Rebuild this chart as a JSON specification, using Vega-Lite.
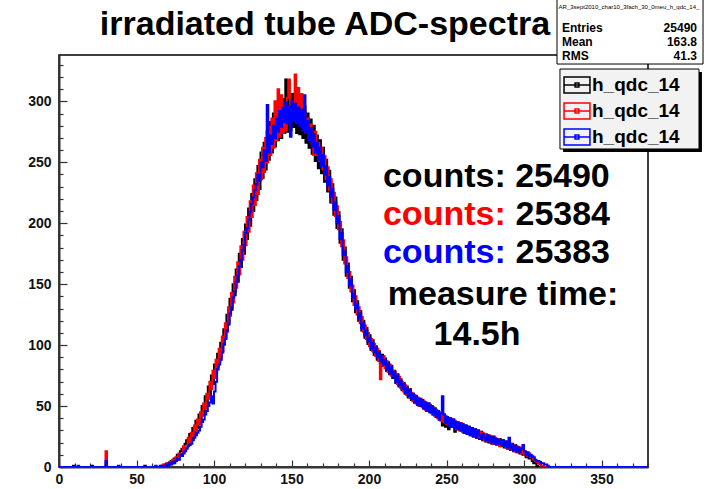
{
  "$schema": "https://vega.github.io/schema/vega-lite/v6.json",
  "autosize": {"type": "none"},
  "width": 589,
  "height": 412,
  "padding": {"left": 59, "top": 55, "right": 56, "bottom": 22},
  "background": "white",
  "config": {
    "font": "Liberation Sans",
    "view": {"stroke": "black", "strokeWidth": 1.5},
    "axis": {"grid": false, "title": null, "domainColor": "#333", "domainWidth": 2, "tickColor": "#333", "tickWidth": 1.2, "labelFont": "Liberation Sans", "labelFontWeight": "bold", "labelFontSize": 14, "labelColor": "#111", "labelFlush": false, "labelOverlap": false}
  },
  "resolve": {"axis": {"x": "independent", "y": "independent"}},
  "layer": [
    {
      "data": {"values": [
        {"x":0,"k":0,"r":0,"b":0},{"x":9,"k":1,"r":0,"b":0},{"x":10,"k":0,"r":0,"b":0},{"x":12,"k":0,"r":0,"b":1},{"x":13,"k":0,"r":0,"b":0},
        {"x":21,"k":1,"r":0,"b":0},{"x":22,"k":0,"r":0,"b":0},{"x":30,"k":1,"r":13,"b":5},{"x":31,"k":0,"r":0,"b":0},{"x":38,"k":0,"r":0,"b":1},{"x":39,"k":0,"r":0,"b":0},
        {"x":55,"k":1,"r":0,"b":0},{"x":56,"k":0,"r":0,"b":0},{"x":62,"k":0,"r":0,"b":1},{"x":63,"k":0,"r":0,"b":0},
        {"x":65,"k":0,"r":0,"b":1},{"x":66,"k":1,"r":0,"b":0},{"x":67,"k":0,"r":2,"b":1},{"x":68,"k":2,"r":1,"b":0},{"x":69,"k":1,"r":3,"b":2},
        {"x":70,"k":3,"r":2,"b":1},{"x":71,"k":2,"r":4,"b":3},{"x":72,"k":5,"r":3,"b":2},{"x":73,"k":3,"r":6,"b":4},{"x":74,"k":7,"r":4,"b":3},
        {"x":75,"k":5,"r":8,"b":5},{"x":76,"k":10,"r":6,"b":7},{"x":77,"k":8,"r":11,"b":6},{"x":78,"k":13,"r":9,"b":10},{"x":79,"k":15,"r":11,"b":9},
        {"x":80,"k":12,"r":17,"b":11},{"x":81,"k":19,"r":14,"b":13},{"x":82,"k":22,"r":16,"b":15},{"x":83,"k":18,"r":24,"b":17},{"x":84,"k":27,"r":20,"b":18},
        {"x":85,"k":22,"r":28,"b":19},{"x":86,"k":32,"r":25,"b":22},{"x":87,"k":27,"r":34,"b":24},{"x":88,"k":38,"r":30,"b":26},{"x":89,"k":32,"r":39,"b":28},
        {"x":90,"k":43,"r":35,"b":30},{"x":91,"k":38,"r":45,"b":33},{"x":92,"k":50,"r":42,"b":37},{"x":93,"k":44,"r":52,"b":39},{"x":94,"k":58,"r":48,"b":43},
        {"x":95,"k":51,"r":60,"b":46},{"x":96,"k":66,"r":56,"b":50},{"x":97,"k":59,"r":70,"b":53},{"x":98,"k":75,"r":64,"b":58},{"x":99,"k":68,"r":79,"b":52},
        {"x":100,"k":84,"r":73,"b":62},{"x":101,"k":78,"r":88,"b":70},{"x":102,"k":93,"r":82,"b":80},{"x":103,"k":86,"r":97,"b":84},{"x":104,"k":102,"r":90,"b":88},
        {"x":105,"k":95,"r":107,"b":94},{"x":106,"k":113,"r":100,"b":101},{"x":107,"k":106,"r":118,"b":105},{"x":108,"k":125,"r":111,"b":112},{"x":109,"k":117,"r":131,"b":118},
        {"x":110,"k":138,"r":124,"b":126},{"x":111,"k":129,"r":143,"b":131},{"x":112,"k":150,"r":135,"b":139},{"x":113,"k":141,"r":156,"b":144},{"x":114,"k":162,"r":147,"b":152},
        {"x":115,"k":152,"r":168,"b":157},{"x":116,"k":175,"r":158,"b":165},{"x":117,"k":164,"r":181,"b":170},{"x":118,"k":187,"r":170,"b":178},{"x":119,"k":175,"r":193,"b":182},
        {"x":120,"k":199,"r":182,"b":192},{"x":121,"k":187,"r":205,"b":196},{"x":122,"k":212,"r":193,"b":203},{"x":123,"k":198,"r":218,"b":209},{"x":124,"k":224,"r":205,"b":216},
        {"x":125,"k":210,"r":231,"b":221},{"x":126,"k":236,"r":215,"b":227},{"x":127,"k":219,"r":241,"b":232},{"x":128,"k":247,"r":224,"b":240},{"x":129,"k":228,"r":252,"b":235},
        {"x":130,"k":258,"r":236,"b":250},{"x":131,"k":237,"r":262,"b":246},{"x":132,"k":266,"r":242,"b":260},{"x":133,"k":244,"r":270,"b":251},{"x":134,"k":275,"r":250,"b":297},
        {"x":135,"k":252,"r":279,"b":258},{"x":136,"k":283,"r":256,"b":272},{"x":137,"k":258,"r":286,"b":265},{"x":138,"k":290,"r":262,"b":280},{"x":139,"k":263,"r":300,"b":270},
        {"x":140,"k":296,"r":268,"b":286},{"x":141,"k":268,"r":310,"b":275},{"x":142,"k":299,"r":271,"b":292},{"x":143,"k":270,"r":305,"b":279},{"x":144,"k":302,"r":274,"b":295},
        {"x":145,"k":274,"r":296,"b":283},{"x":146,"k":318,"r":276,"b":299},{"x":147,"k":275,"r":303,"b":282},{"x":148,"k":304,"r":318,"b":296},{"x":149,"k":276,"r":284,"b":271},
        {"x":150,"k":306,"r":296,"b":300},{"x":151,"k":279,"r":285,"b":284},{"x":152,"k":300,"r":322,"b":298},{"x":153,"k":274,"r":283,"b":282},{"x":154,"k":303,"r":311,"b":295},
        {"x":155,"k":273,"r":282,"b":280},{"x":156,"k":299,"r":306,"b":293},{"x":157,"k":270,"r":279,"b":276},{"x":158,"k":296,"r":292,"b":305},{"x":159,"k":266,"r":274,"b":274},
        {"x":160,"k":290,"r":286,"b":284},{"x":161,"k":262,"r":270,"b":268},{"x":162,"k":285,"r":281,"b":278},{"x":163,"k":257,"r":265,"b":263},{"x":164,"k":280,"r":256,"b":273},
        {"x":165,"k":251,"r":275,"b":258},{"x":166,"k":272,"r":256,"b":266},{"x":167,"k":245,"r":266,"b":252},{"x":168,"k":268,"r":251,"b":262},{"x":169,"k":241,"r":262,"b":247},
        {"x":170,"k":262,"r":244,"b":256},{"x":171,"k":234,"r":255,"b":240},{"x":172,"k":252,"r":236,"b":247},{"x":173,"k":226,"r":246,"b":231},{"x":174,"k":243,"r":227,"b":238},
        {"x":175,"k":217,"r":236,"b":222},{"x":176,"k":232,"r":217,"b":228},{"x":177,"k":207,"r":225,"b":211},{"x":178,"k":221,"r":206,"b":217},{"x":179,"k":196,"r":214,"b":200},
        {"x":180,"k":209,"r":195,"b":206},{"x":181,"k":184,"r":201,"b":187},{"x":182,"k":195,"r":181,"b":192},{"x":183,"k":170,"r":186,"b":174},{"x":184,"k":180,"r":167,"b":177},
        {"x":185,"k":157,"r":172,"b":160},{"x":186,"k":167,"r":155,"b":165},{"x":187,"k":147,"r":160,"b":149},{"x":188,"k":156,"r":144,"b":154},{"x":189,"k":136,"r":149,"b":139},
        {"x":190,"k":145,"r":133,"b":142},{"x":191,"k":127,"r":140,"b":130},{"x":192,"k":136,"r":125,"b":134},{"x":193,"k":120,"r":131,"b":122},{"x":194,"k":128,"r":118,"b":126},
        {"x":195,"k":112,"r":123,"b":114},{"x":196,"k":120,"r":111,"b":118},{"x":197,"k":106,"r":116,"b":108},{"x":198,"k":114,"r":105,"b":112},{"x":199,"k":101,"r":110,"b":103},
        {"x":200,"k":108,"r":99,"b":106},{"x":201,"k":96,"r":105,"b":97},{"x":202,"k":104,"r":95,"b":102},{"x":203,"k":92,"r":101,"b":94},{"x":204,"k":99,"r":91,"b":98},
        {"x":205,"k":88,"r":97,"b":90},{"x":206,"k":95,"r":87,"b":94},{"x":207,"k":85,"r":72,"b":87},{"x":208,"k":92,"r":84,"b":91},{"x":209,"k":83,"r":91,"b":84},
        {"x":210,"k":89,"r":81,"b":88},{"x":211,"k":79,"r":87,"b":80},{"x":212,"k":86,"r":78,"b":85},{"x":213,"k":76,"r":84,"b":77},{"x":214,"k":83,"r":75,"b":82},
        {"x":215,"k":73,"r":79,"b":74},{"x":216,"k":79,"r":78,"b":78},{"x":217,"k":69,"r":76,"b":70},{"x":218,"k":76,"r":68,"b":75},{"x":219,"k":66,"r":74,"b":67},
        {"x":220,"k":72,"r":65,"b":71},{"x":221,"k":63,"r":70,"b":64},{"x":222,"k":69,"r":62,"b":68},{"x":223,"k":60,"r":67,"b":61},{"x":224,"k":66,"r":59,"b":65},
        {"x":225,"k":57,"r":64,"b":58},{"x":226,"k":64,"r":57,"b":63},{"x":227,"k":55,"r":61,"b":56},{"x":228,"k":60,"r":54,"b":60},{"x":229,"k":53,"r":59,"b":53},
        {"x":230,"k":58,"r":52,"b":58},{"x":231,"k":51,"r":57,"b":51},{"x":232,"k":56,"r":50,"b":56},{"x":233,"k":50,"r":56,"b":50},{"x":234,"k":55,"r":49,"b":55},
        {"x":235,"k":48,"r":54,"b":48},{"x":236,"k":53,"r":47,"b":53},{"x":237,"k":46,"r":52,"b":46},{"x":238,"k":52,"r":46,"b":52},{"x":239,"k":45,"r":51,"b":45},
        {"x":240,"k":50,"r":44,"b":50},{"x":241,"k":43,"r":49,"b":43},{"x":242,"k":48,"r":42,"b":48},{"x":243,"k":41,"r":47,"b":41},{"x":244,"k":46,"r":40,"b":46},
        {"x":245,"k":39,"r":45,"b":39},{"x":246,"k":44,"r":38,"b":44},{"x":247,"k":34,"r":43,"b":58},{"x":248,"k":43,"r":37,"b":43},{"x":249,"k":33,"r":42,"b":36},
        {"x":250,"k":41,"r":35,"b":41},{"x":251,"k":31,"r":40,"b":34},{"x":252,"k":40,"r":34,"b":40},{"x":253,"k":33,"r":39,"b":33},{"x":254,"k":39,"r":33,"b":39},
        {"x":255,"k":29,"r":38,"b":32},{"x":256,"k":37,"r":31,"b":37},{"x":257,"k":31,"r":37,"b":31},{"x":258,"k":36,"r":30,"b":36},{"x":259,"k":30,"r":36,"b":30},
        {"x":260,"k":35,"r":29,"b":35},{"x":261,"k":28,"r":34,"b":28},{"x":262,"k":34,"r":28,"b":34},{"x":263,"k":27,"r":33,"b":27},{"x":264,"k":33,"r":27,"b":33},
        {"x":265,"k":26,"r":32,"b":26},{"x":266,"k":32,"r":26,"b":32},{"x":267,"k":25,"r":31,"b":25},{"x":268,"k":31,"r":25,"b":31},{"x":269,"k":24,"r":30,"b":24},
        {"x":270,"k":30,"r":24,"b":30},{"x":271,"k":23,"r":29,"b":26},{"x":272,"k":29,"r":24,"b":23},{"x":273,"k":22,"r":28,"b":27},{"x":274,"k":27,"r":22,"b":24},
        {"x":275,"k":21,"r":27,"b":22},{"x":276,"k":26,"r":21,"b":26},{"x":277,"k":20,"r":26,"b":21},{"x":278,"k":25,"r":20,"b":25},{"x":279,"k":19,"r":24,"b":20},
        {"x":280,"k":25,"r":19,"b":24},{"x":281,"k":20,"r":24,"b":19},{"x":282,"k":23,"r":18,"b":23},{"x":283,"k":18,"r":23,"b":19},{"x":284,"k":23,"r":17,"b":22},
        {"x":285,"k":17,"r":22,"b":18},{"x":286,"k":22,"r":18,"b":22},{"x":287,"k":16,"r":21,"b":17},{"x":288,"k":21,"r":16,"b":21},{"x":289,"k":15,"r":20,"b":16},
        {"x":290,"k":20,"r":15,"b":24},{"x":291,"k":14,"r":19,"b":15},{"x":292,"k":19,"r":14,"b":18},{"x":293,"k":13,"r":18,"b":14},{"x":294,"k":18,"r":13,"b":17},
        {"x":295,"k":12,"r":17,"b":13},{"x":296,"k":16,"r":12,"b":16},{"x":297,"k":11,"r":16,"b":12},{"x":298,"k":15,"r":11,"b":15},{"x":299,"k":10,"r":14,"b":18},
        {"x":300,"k":13,"r":10,"b":13},{"x":301,"k":8,"r":12,"b":10},{"x":302,"k":11,"r":9,"b":12},{"x":303,"k":7,"r":11,"b":9},{"x":304,"k":8,"r":8,"b":10},
        {"x":305,"k":5,"r":9,"b":8},{"x":306,"k":3,"r":6,"b":8},{"x":307,"k":4,"r":5,"b":6},{"x":308,"k":1,"r":4,"b":5},{"x":309,"k":0,"r":3,"b":5},
        {"x":310,"k":0,"r":2,"b":4},{"x":311,"k":0,"r":1,"b":3},{"x":312,"k":0,"r":1,"b":3},{"x":313,"k":0,"r":0,"b":2},{"x":314,"k":0,"r":0,"b":2},
        {"x":315,"k":0,"r":0,"b":1},{"x":316,"k":0,"r":0,"b":0},{"x":380,"k":0,"r":0,"b":0}
      ]},
      "transform": [{"fold": ["k", "r", "b"], "as": ["series", "count"]}],
      "mark": {"type": "line", "interpolate": "step-after", "strokeWidth": 2, "clip": true},
      "encoding": {
        "x": {"field": "x", "type": "quantitative",
          "scale": {"domain": [0, 380], "nice": false, "zero": false},
          "axis": {"orient": "bottom", "values": [0,10,20,30,40,50,60,70,80,90,100,110,120,130,140,150,160,170,180,190,200,210,220,230,240,250,260,270,280,290,300,310,320,330,340,350,360,370,380],
            "labelExpr": "datum.value % 50 === 0 ? datum.label : ''",
            "tickSize": {"condition": {"test": "datum.value % 50 === 0", "value": -7}, "value": -4},
            "labelPadding": 12}},
        "y": {"field": "count", "type": "quantitative",
          "scale": {"domain": [0, 338], "nice": false},
          "axis": {"orient": "left", "values": [0,10,20,30,40,50,60,70,80,90,100,110,120,130,140,150,160,170,180,190,200,210,220,230,240,250,260,270,280,290,300,310,320,330],
            "labelExpr": "datum.value % 50 === 0 ? datum.label : ''",
            "tickSize": {"condition": {"test": "datum.value % 50 === 0", "value": -8}, "value": -4},
            "labelPadding": 16}},
        "color": {"field": "series", "type": "nominal",
          "scale": {"domain": ["k", "r", "b"], "range": ["#000000", "#ff0000", "#0000ff"]},
          "legend": {"orient": "none", "legendX": 502, "legendY": 14, "title": null,
            "labelExpr": "'h_qdc_14'", "labelFont": "Liberation Sans", "labelFontWeight": "bold", "labelFontSize": 19, "labelColor": "black",
            "symbolType": "M-1.08,-0.67L1.08,-0.67L1.08,0.67L-1.08,0.67Z M-1.08,0L1.08,0 M-0.16,-0.16L0.16,-0.16L0.16,0.16L-0.16,0.16Z",
            "symbolSize": 576, "symbolStrokeWidth": 1.5, "padding": 3, "rowPadding": 1, "labelOffset": 2}}
      }
    },
    {"data": {"values": [{"n": 1}]}, "mark": {"type": "text", "text": "irradiated tube ADC-spectra", "fontSize": 34, "fontWeight": "bold", "align": "center", "baseline": "alphabetic", "color": "black"},
     "encoding": {"x": {"datum": 171.6, "type": "quantitative", "axis": null}, "y": {"datum": 354.4, "type": "quantitative", "axis": null}}},
    {"data": {"values": [{"n": 1}]}, "mark": {"type": "rect", "fill": "white", "stroke": "black", "strokeWidth": 1},
     "encoding": {"x": {"datum": 321.3, "type": "quantitative", "axis": null}, "x2": {"datum": 415.5}, "y": {"datum": 383.9, "type": "quantitative", "axis": null}, "y2": {"datum": 330.6}}},
    {"data": {"values": [{"n": 1}]}, "mark": {"type": "rect", "fill": "black"},
     "encoding": {"x": {"datum": 325.2, "type": "quantitative", "axis": null}, "x2": {"datum": 414.8}, "y": {"datum": 324.1, "type": "quantitative", "axis": null}, "y2": {"datum": 258.4}}},
    {"data": {"values": [{"n": 1}]}, "mark": {"type": "rect", "fill": "#f2f2f2", "stroke": "black", "strokeWidth": 1},
     "encoding": {"x": {"datum": 323.2, "type": "quantitative", "axis": null}, "x2": {"datum": 412.9}, "y": {"datum": 326.5, "type": "quantitative", "axis": null}, "y2": {"datum": 260.9}}},
    {"data": {"values": [{"n": 1}]}, "mark": {"type": "text", "text": "AR_3sept2010_char10_3fach_30_0meu_h_qdc_14_", "fontSize": 6, "align": "center", "baseline": "alphabetic", "color": "black"},
     "encoding": {"x": {"datum": 367.7, "type": "quantitative", "axis": null}, "y": {"datum": 375.8, "type": "quantitative", "axis": null}}},
    {"data": {"values": [{"n": 1}]}, "mark": {"type": "text", "text": "Entries", "fontSize": 12, "fontWeight": "bold", "align": "left", "baseline": "alphabetic", "color": "black"},
     "encoding": {"x": {"datum": 324.5, "type": "quantitative", "axis": null}, "y": {"datum": 356.9, "type": "quantitative", "axis": null}}},
    {"data": {"values": [{"n": 1}]}, "mark": {"type": "text", "text": "25490", "fontSize": 12, "fontWeight": "bold", "align": "right", "baseline": "alphabetic", "color": "black"},
     "encoding": {"x": {"datum": 411.6, "type": "quantitative", "axis": null}, "y": {"datum": 356.9, "type": "quantitative", "axis": null}}},
    {"data": {"values": [{"n": 1}]}, "mark": {"type": "text", "text": "Mean", "fontSize": 12, "fontWeight": "bold", "align": "left", "baseline": "alphabetic", "color": "black"},
     "encoding": {"x": {"datum": 324.5, "type": "quantitative", "axis": null}, "y": {"datum": 345.4, "type": "quantitative", "axis": null}}},
    {"data": {"values": [{"n": 1}]}, "mark": {"type": "text", "text": "163.8", "fontSize": 12, "fontWeight": "bold", "align": "right", "baseline": "alphabetic", "color": "black"},
     "encoding": {"x": {"datum": 411.6, "type": "quantitative", "axis": null}, "y": {"datum": 345.4, "type": "quantitative", "axis": null}}},
    {"data": {"values": [{"n": 1}]}, "mark": {"type": "text", "text": "RMS", "fontSize": 12, "fontWeight": "bold", "align": "left", "baseline": "alphabetic", "color": "black"},
     "encoding": {"x": {"datum": 324.5, "type": "quantitative", "axis": null}, "y": {"datum": 333.9, "type": "quantitative", "axis": null}}},
    {"data": {"values": [{"n": 1}]}, "mark": {"type": "text", "text": "41.3", "fontSize": 12, "fontWeight": "bold", "align": "right", "baseline": "alphabetic", "color": "black"},
     "encoding": {"x": {"datum": 411.6, "type": "quantitative", "axis": null}, "y": {"datum": 333.9, "type": "quantitative", "axis": null}}},
    {"data": {"values": [{"n": 1}]}, "mark": {"type": "text", "text": "counts: 25490", "fontSize": 34, "fontWeight": "bold", "align": "left", "baseline": "alphabetic", "color": "black"},
     "encoding": {"x": {"datum": 209.0, "type": "quantitative", "axis": null}, "y": {"datum": 229.7, "type": "quantitative", "axis": null}}},
    {"data": {"values": [{"n": 1}]}, "mark": {"type": "text", "text": "counts:", "fontSize": 34, "fontWeight": "bold", "align": "left", "baseline": "alphabetic", "color": "#ff0000"},
     "encoding": {"x": {"datum": 209.0, "type": "quantitative", "axis": null}, "y": {"datum": 198.5, "type": "quantitative", "axis": null}}},
    {"data": {"values": [{"n": 1}]}, "mark": {"type": "text", "text": "25384", "fontSize": 34, "fontWeight": "bold", "align": "right", "baseline": "alphabetic", "color": "black"},
     "encoding": {"x": {"datum": 355.5, "type": "quantitative", "axis": null}, "y": {"datum": 198.5, "type": "quantitative", "axis": null}}},
    {"data": {"values": [{"n": 1}]}, "mark": {"type": "text", "text": "counts:", "fontSize": 34, "fontWeight": "bold", "align": "left", "baseline": "alphabetic", "color": "#0000ff"},
     "encoding": {"x": {"datum": 209.0, "type": "quantitative", "axis": null}, "y": {"datum": 167.4, "type": "quantitative", "axis": null}}},
    {"data": {"values": [{"n": 1}]}, "mark": {"type": "text", "text": "25383", "fontSize": 34, "fontWeight": "bold", "align": "right", "baseline": "alphabetic", "color": "black"},
     "encoding": {"x": {"datum": 355.5, "type": "quantitative", "axis": null}, "y": {"datum": 167.4, "type": "quantitative", "axis": null}}},
    {"data": {"values": [{"n": 1}]}, "mark": {"type": "text", "text": "measure time:", "fontSize": 34, "fontWeight": "bold", "align": "center", "baseline": "alphabetic", "color": "black"},
     "encoding": {"x": {"datum": 286.5, "type": "quantitative", "axis": null}, "y": {"datum": 132.9, "type": "quantitative", "axis": null}}},
    {"data": {"values": [{"n": 1}]}, "mark": {"type": "text", "text": "14.5h", "fontSize": 34, "fontWeight": "bold", "align": "center", "baseline": "alphabetic", "color": "black"},
     "encoding": {"x": {"datum": 269.7, "type": "quantitative", "axis": null}, "y": {"datum": 100.1, "type": "quantitative", "axis": null}}}
  ]
}
